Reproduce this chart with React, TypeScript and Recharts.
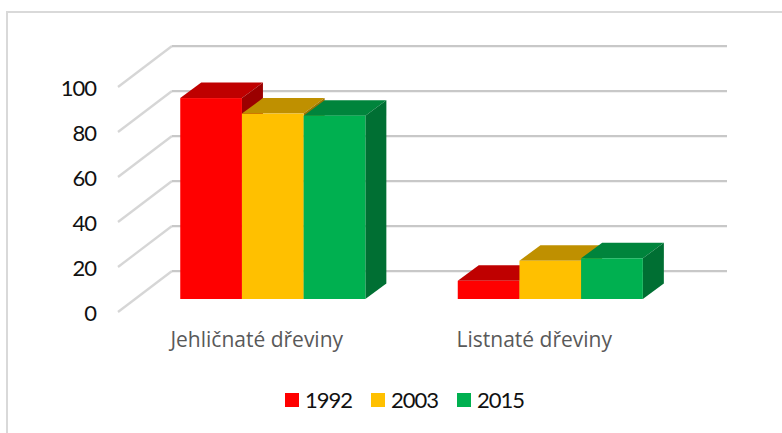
import { Bar, BarChart, CartesianGrid, Legend, XAxis, YAxis } from 'recharts';

const categories = ['Jehličnaté dřeviny', 'Listnaté dřeviny'];
const values1992 = [89.3, 8.1];
const values2003 = [82.4, 17];
const values2015 = [81.5, 18.1];
const yTicks = [0, 20, 40, 60, 80, 100];

const data = categories.map((name, i) => ({
  name,
  y1992: values1992[i],
  y2003: values2003[i],
  y2015: values2015[i],
}));

// top / side shades for the fake 3D faces
const shades: Record<string, { top: string; side: string }> = {
  '#FF0000': { top: '#BF0000', side: '#9B0000' },
  '#FFC000': { top: '#BF9000', side: '#9B7500' },
  '#00B050': { top: '#00843C', side: '#006F33' },
};

function Bar3D({ x, y, width, height, fill }: any) {
  const left = x + 16.25;
  const right = left + width;
  const top = y - 13;
  const bottom = top + height;
  const dx = 21;
  const dy = 15.5;
  const { top: topFill, side } = shades[fill];
  return (
    <g>
      <polygon points={`${left},${top} ${left + dx},${top - dy} ${right + dx},${top - dy} ${right},${top}`} fill={topFill} />
      <polygon points={`${right},${top} ${right + dx},${top - dy} ${right + dx},${bottom - dy} ${right},${bottom}`} fill={side} />
      <rect x={left} y={top} width={width} height={height} fill={fill} />
    </g>
  );
}

// floor diagonal plus the line along the back wall
function GridLine3D({ x1, x2, y1 }: any) {
  const backX = x1 + 54;
  const backY = y1 - 41;
  return (
    <g fill="none">
      <line x1={x1} y1={y1} x2={backX} y2={backY} stroke="#D6D6D6" strokeWidth={2.25} />
      <line x1={backX} y1={backY} x2={x2 + 54} y2={backY} stroke="#C8C8C8" strokeWidth={2.25} />
    </g>
  );
}

function LegendRow({ payload }: any) {
  return (
    <div style={{ display: 'flex', justifyContent: 'center', alignItems: 'center', gap: 19 }}>
      {(payload ?? []).map((item: any) => (
        <div key={item.value} style={{ display: 'flex', alignItems: 'center', gap: 6 }}>
          <span style={{ width: 14, height: 14, background: item.color, display: 'inline-block' }} />
          <span style={{ fontFamily: 'Lato', fontSize: 22, letterSpacing: -1, color: '#111111', lineHeight: '24px' }}>{item.value}</span>
        </div>
      ))}
    </div>
  );
}

export default function App() {
  return (
    <div style={{ position: 'absolute', left: 0, top: 0, width: 782, height: 433, overflow: 'hidden', background: '#fff' }}>
      <div style={{ position: 'absolute', left: 6, top: 11, width: 790, height: 440, border: '2px solid #D9D9D9', boxSizing: 'border-box' }} />
      <BarChart
        width={782}
        height={433}
        data={data}
        margin={{ top: 87, right: 109, bottom: 51, left: 0 }}
        barSize={61.7}
        barGap={0}
      >
        <CartesianGrid vertical={false} horizontal={(props: any) => <GridLine3D key={props.key} {...props} />} />
        <XAxis
          dataKey="name"
          height={30}
          tickLine={false}
          axisLine={false}
          tickSize={0}
          tickMargin={20}
          tick={{ fill: '#595959', fontFamily: 'Open Sans', fontSize: 21 }}
        />
        <YAxis
          width={118}
          domain={[0, 100]}
          ticks={yTicks}
          interval={0}
          tickLine={false}
          axisLine={false}
          tickSize={0}
          tickMargin={22}
          dy={1}
          tick={{ fill: '#111111', fontFamily: 'Lato', fontSize: 22, letterSpacing: -1 }}
        />
        <Legend
          verticalAlign="bottom"
          height={40}
          content={<LegendRow />}
          wrapperStyle={{ top: 388, left: 0, width: 809, bottom: 'auto' }}
        />
        <Bar dataKey="y1992" name="1992" fill="#FF0000" shape={<Bar3D />} isAnimationActive={false} />
        <Bar dataKey="y2003" name="2003" fill="#FFC000" shape={<Bar3D />} isAnimationActive={false} />
        <Bar dataKey="y2015" name="2015" fill="#00B050" shape={<Bar3D />} isAnimationActive={false} />
      </BarChart>
    </div>
  );
}
